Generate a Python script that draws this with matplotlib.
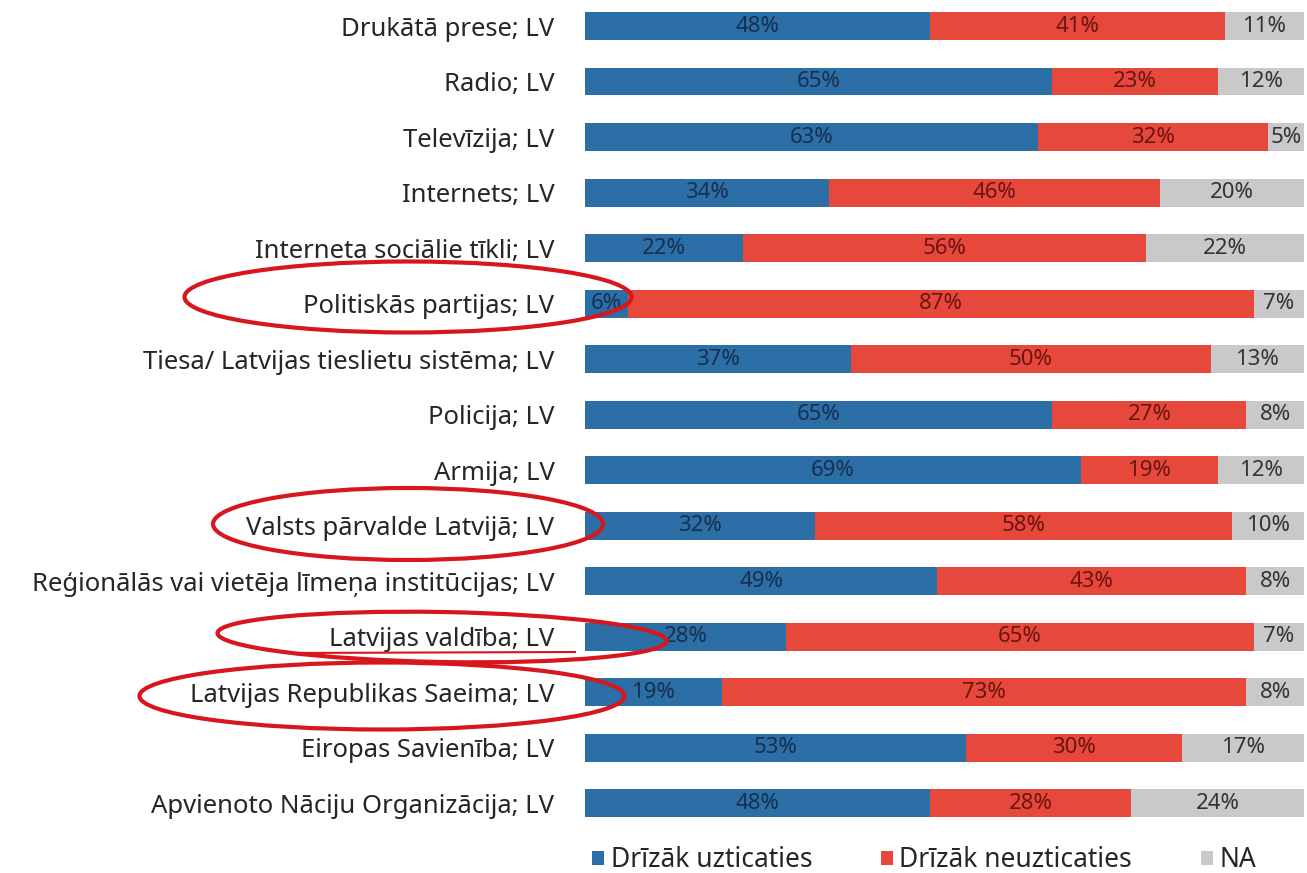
import numpy as np
import matplotlib.pyplot as plt
from matplotlib.patches import Ellipse, Patch
from matplotlib.lines import Line2D
from matplotlib.transforms import Affine2D

plt.rcParams['font.family'] = ['Noto Sans', 'DejaVu Sans']

# Data
categories = [
    'Drukātā prese; LV',
    'Radio; LV',
    'Televīzija; LV',
    'Internets; LV',
    'Interneta sociālie tīkli; LV',
    'Politiskās partijas; LV',
    'Tiesa/ Latvijas tieslietu sistēma; LV',
    'Policija; LV',
    'Armija; LV',
    'Valsts pārvalde Latvijā; LV',
    'Reģionālās vai vietēja līmeņa institūcijas; LV',
    'Latvijas valdība; LV',
    'Latvijas Republikas Saeima; LV',
    'Eiropas Savienība; LV',
    'Apvienoto Nāciju Organizācija; LV',
]
trust = [48, 65, 63, 34, 22, 6, 37, 65, 69, 32, 49, 28, 19, 53, 48]
distrust = [41, 23, 32, 46, 56, 87, 50, 27, 19, 58, 43, 65, 73, 30, 28]
na = [11, 12, 5, 20, 22, 7, 13, 8, 12, 10, 8, 7, 8, 17, 24]
series_names = ['Drīzāk uzticaties', 'Drīzāk neuzticaties', 'NA']

# Colours
BAR_COLORS = ['#2c6ea6', '#e6483c', '#c9c9c9']
TXT_COLORS = ['#17304f', '#6a1512', '#333333']

W, H = 1307, 873
fig = plt.figure(figsize=(W / 100, H / 100), dpi=100)
ax = fig.add_axes([585 / W, 1 - 831 / H, 719 / W, 831 / H])

y = np.arange(len(categories))
left = np.zeros(len(categories))
for vals, bc, tc in zip([trust, distrust, na], BAR_COLORS, TXT_COLORS):
    vals = np.array(vals, dtype=float)
    ax.barh(y, vals, left=left, height=0.5, color=bc, edgecolor='none')
    for yi, (l, v) in enumerate(zip(left, vals)):
        ax.text(l + v / 2, yi, f'{int(v)}%', ha='center', va='center',
                fontsize=16, color=tc)
    left += vals

ax.set_xlim(0, 100)
ax.set_ylim(14.5, -0.47)
ax.set_yticks(y)
ax.set_yticklabels(categories, fontsize=18.5, color='#262626')
ax.tick_params(axis='y', length=0, pad=22)
ax.set_xticks([])
for s in ax.spines.values():
    s.set_visible(False)

# Legend
handles = [Patch(facecolor=c, edgecolor='none') for c in BAR_COLORS]
fig.legend(handles, series_names, loc='center', bbox_to_anchor=(924 / W, 1 - 860 / H),
           ncol=3, frameon=False, fontsize=19, handlelength=0.45, handleheight=0.45,
           handletextpad=0.25, columnspacing=2.6, labelcolor='#262626')

# Red hand-drawn style ellipses (pixel coordinates, y downwards)
px = Affine2D().scale(1 / W, -1 / H).translate(0, 1) + fig.transFigure
ellipses = [
    (408, 297, 447, 71, 0),
    (408, 524, 390, 72, 0),
    (442, 637, 449, 50, 1),
    (382, 696, 485, 67, 0),
]
for cx, cy, ew, eh, ang in ellipses:
    fig.patches.append(Ellipse((cx, cy), ew, eh, angle=ang, fill=False,
                               edgecolor='#d7161e', linewidth=3, transform=px))
fig.lines.append(Line2D([290, 575], [653, 652], color='#d7161e', linewidth=1.5,
                        transform=px))

fig.savefig('out.png', dpi=100)
